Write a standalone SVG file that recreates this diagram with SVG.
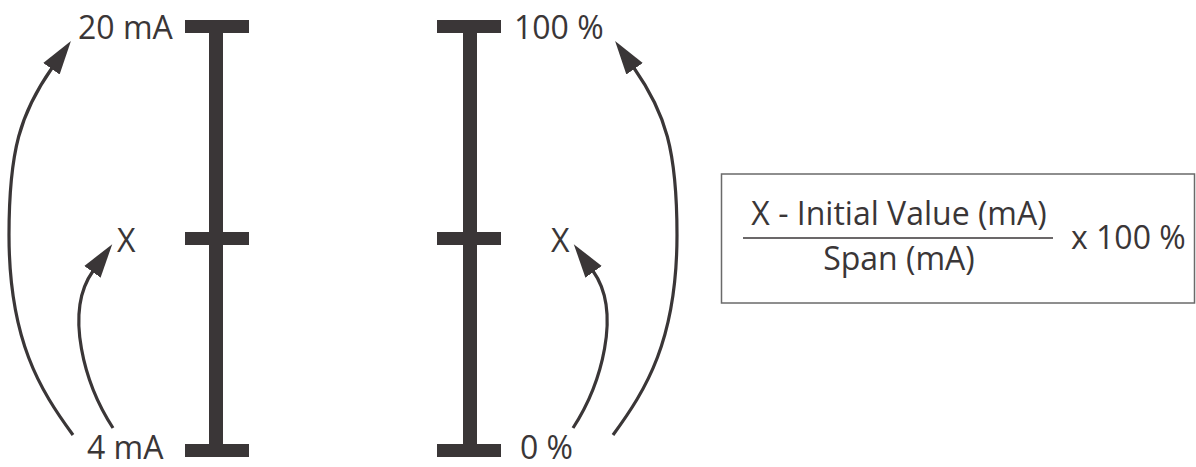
<svg xmlns="http://www.w3.org/2000/svg" width="1196" height="467" viewBox="0 0 1196 467">
<style>
.bar{fill:#3a3637}
.lbl{font-family:"Open Sans","Noto Sans",sans-serif;font-size:32px;fill:#3a3637}
.arr{fill:none;stroke:#3a3637;stroke-width:3.2;marker-end:url(#ah)}
.box{fill:#fff;stroke:#6a6a6a;stroke-width:1.5}
</style>
<defs>
<marker id="ah" markerUnits="userSpaceOnUse" viewBox="0 -11 36 22" markerWidth="36" markerHeight="22" refX="1" refY="0" orient="auto">
<path d="M0,-10 L34,0 L0,10 Z" fill="#3a3637"/>
</marker>
</defs>
<rect width="1196" height="467" fill="#fff"/>
<g id="scale-ma">
<rect class="bar" x="209" y="20" width="14" height="437"/>
<rect class="bar" x="185" y="20" width="64" height="13"/>
<rect class="bar" x="185" y="232" width="64" height="13"/>
<rect class="bar" x="185" y="444" width="64" height="13"/>
</g>
<g id="scale-pct">
<rect class="bar" x="463" y="20" width="14" height="437"/>
<rect class="bar" x="437" y="20" width="64" height="13"/>
<rect class="bar" x="437" y="232" width="64" height="13"/>
<rect class="bar" x="437" y="444" width="64" height="13"/>
</g>
<g id="label-20ma"><text class="lbl" x="78" y="39">20 mA</text></g>
<g id="label-4ma"><text class="lbl" x="87" y="459">4 mA</text></g>
<g id="label-x-left"><text class="lbl" x="117" y="252">X</text></g>
<g id="label-100pct"><text class="lbl" x="514" y="39">100 %</text></g>
<g id="label-0pct"><text class="lbl" x="520" y="459">0 %</text></g>
<g id="label-x-right"><text class="lbl" x="551" y="252">X</text></g>
<g id="formula">
<rect class="box" x="721.5" y="174" width="473" height="129"/>
<text class="lbl" x="899" y="225" text-anchor="middle">X - Initial Value (mA)</text>
<line x1="743" y1="238" x2="1053" y2="238" stroke="#3a3637" stroke-width="1.6"/>
<text class="lbl" x="899" y="270" text-anchor="middle">Span (mA)</text>
<text class="lbl" x="1071" y="249">x 100 %</text>
</g>
<g id="connectors">
<path class="arr" d="M73,435 C40,390 9,340 9,235 C9,150 20.5,113 52,68"/>
<path class="arr" d="M113,428 C85,385 63.6,312 93,271"/>
<path class="arr" d="M613,435 C646,390 677,340 677,235 C677,150 665.5,113 634,68"/>
<path class="arr" d="M573,428 C601,385 622.4,312 593,271"/>
</g>
</svg>
